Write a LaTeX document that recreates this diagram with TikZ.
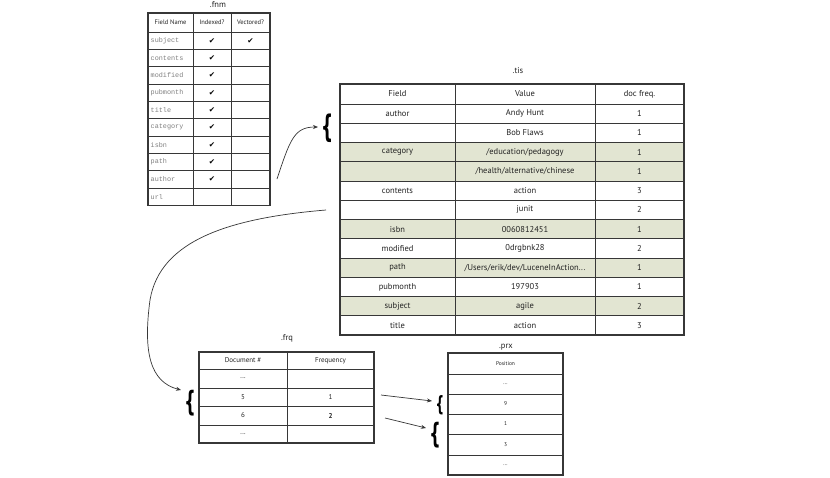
\documentclass[tikz,border=0pt]{standalone}
\usepackage{fontspec}
\setmainfont{PT Sans}
\setmonofont{Liberation Mono}
\newfontfamily\checkfont{DejaVu Sans}
\newfontfamily\bracefont{DejaVu Sans}
\usetikzlibrary{arrows.meta}
\definecolor{rowshade}{RGB}{226,229,210}
\definecolor{gridc}{RGB}{55,55,55}
\definecolor{txtc}{RGB}{35,35,35}
\newcommand\tisrow[4]{%
  \pgfmathsetmacro\ry{94.375+#1*19.25}
  \node[tistxt] (tf#1) at (397.5,\ry) {#2};
  \node[tistxt] (tv#1) at (525,\ry) {#3};
  \node[tistxt] (td#1) at (639.5,\ry) {#4};
}
\newcommand\mybrace{{\bracefont\bfseries\fontsize{10}{10}\selectfont\{}}
\begin{document}
\begin{tikzpicture}[x=1pt,y=-1pt,
  gridline/.style={draw=gridc,line width=0.8pt},
  outer/.style={draw=gridc,line width=1.1pt},
  tistxt/.style={font=\fontsize{8.5}{9}\selectfont,text=txtc,inner sep=0pt},
  fnmhead/.style={font=\fontsize{6.5}{7}\selectfont,text=txtc,inner sep=0pt},
  fnmname/.style={font=\ttfamily\fontsize{6.8}{7}\selectfont,text=gray,inner sep=0pt,anchor=west},
  chk/.style={font=\checkfont\fontsize{7.5}{8}\selectfont,text=black,inner sep=0pt},
  smalltxt/.style={font=\fontsize{7}{8}\selectfont,text=txtc,inner sep=0pt},
  tinytxt/.style={font=\fontsize{5.5}{6}\selectfont,text=txtc,inner sep=0pt},
  lbl/.style={font=\fontsize{8.5}{9}\selectfont,text=txtc,inner sep=0pt},
  bracenode/.style={inner sep=0pt,text=black},
  conn/.style={draw=gridc,line width=0.7pt,-{Stealth[length=5pt,width=4pt]}}]
\useasboundingbox (0,0) rectangle (830,477);
\fill[white] (0,0) rectangle (830,477);

% ---------------- .fnm ----------------
\node[lbl] (fnmlbl) at (218,5) {.fnm};
\foreach \y in {32,49.34,66.68,84.02,101.36,118.7,136.04,153.38,170.72,188.06}
  \draw[gridline] (148,\y) -- (270,\y);
\draw[gridline] (193,13) -- (193,205.4);
\draw[gridline] (231,13) -- (231,205.4);
\draw[outer] (148,13) rectangle (270,205.4);
\node[fnmhead] (fh1) at (170.5,22.5) {Field Name};
\node[fnmhead] (fh2) at (212,22.5) {Indexed?};
\node[fnmhead] (fh3) at (250.5,22.5) {Vectored?};
\foreach \i/\nm/\ix/\vc in {1/subject/1/1,2/contents/1/0,3/modified/1/0,4/pubmonth/1/0,5/title/1/0,6/category/1/0,7/isbn/1/0,8/path/1/0,9/author/1/0,10/url/0/0}{
  \pgfmathsetmacro\ry{32+(\i-0.5)*17.34}
  \node[fnmname] (fn\i) at (150.5,\ry) {\nm};
  \ifnum\ix=1 \node[chk] (fi\i) at (212,\ry) {✔}; \fi
  \ifnum\vc=1 \node[chk] (fv\i) at (250.5,\ry) {✔}; \fi
}

% ---------------- .tis ----------------
\node[lbl] (tislbl) at (518,71) {.tis};
\foreach \r in {3,4,7,9,11}
  \fill[rowshade] (340,{104+(\r-1)*19.25}) rectangle (684,{104+\r*19.25});
\foreach \r in {0,...,11}
  \draw[gridline] (340,{104+\r*19.25}) -- (684,{104+\r*19.25});
\draw[gridline] (455,84) -- (455,335);
\draw[gridline] (595,84) -- (595,335);
\draw[outer] (340,84) rectangle (684,335);
\node[tistxt] (th1) at (397.5,94) {Field};
\node[tistxt] (th2) at (525,94) {Value};
\node[tistxt] (th3) at (639.5,94) {doc freq.};
\tisrow{1}{author}{Andy Hunt}{1}
\tisrow{2}{}{Bob Flaws}{1}
\tisrow{3}{category}{/education/pedagogy}{1}
\tisrow{4}{}{/health/alternative/chinese}{1}
\tisrow{5}{contents}{action}{3}
\tisrow{6}{}{junit}{2}
\tisrow{7}{isbn}{0060812451}{1}
\tisrow{8}{modified}{0drgbnk28}{2}
\tisrow{9}{path}{/Users/erik/dev/LuceneInAction...}{1}
\tisrow{10}{pubmonth}{197903}{1}
\tisrow{11}{subject}{agile}{2}
\tisrow{12}{title}{action}{3}

% ---------------- .frq ----------------
\node[lbl] (frqlbl) at (287,338) {.frq};
\foreach \y in {369,388,406,425}
  \draw[gridline] (199,\y) -- (374,\y);
\draw[gridline] (287,352) -- (287,443);
\draw[outer] (199,352) rectangle (374,443);
\node[smalltxt] (fq1) at (243,360.5) {Document \#};
\node[smalltxt] (fq2) at (330.5,360.5) {Frequency};
\node[smalltxt] (fq3) at (243,378.5) {...};
\node[smalltxt] (fq4) at (243,397) {5};
\node[smalltxt] (fq5) at (330.5,397) {1};
\node[smalltxt] (fq6) at (243,415.5) {6};
\node[smalltxt] (fq7) at (330.5,415.5) {\bfseries 2};
\node[smalltxt] (fq8) at (243,434) {...};

% ---------------- .prx ----------------
\node[lbl] (prxlbl) at (506,347) {.prx};
\foreach \y in {374,394,414,434,455}
  \draw[gridline] (448,\y) -- (563,\y);
\draw[outer] (448,353) rectangle (563,475);
\node[tinytxt] (px1) at (505.5,364) {Position};
\node[tinytxt] (px2) at (505.5,384) {...};
\node[tinytxt] (px3) at (505.5,404) {9};
\node[tinytxt] (px4) at (505.5,424) {1};
\node[tinytxt] (px5) at (505.5,444.5) {3};
\node[tinytxt] (px6) at (505.5,465) {...};

% ---------------- braces ----------------
\node[bracenode,xscale=1.7,yscale=3.1] (btis) at (328,128) {\mybrace};
\node[bracenode,xscale=1.6,yscale=2.8] (bfrq) at (190,403.5) {\mybrace};
\node[bracenode,xscale=1.2,yscale=2.1] (bprx1) at (440,405) {\mybrace};
\node[bracenode,xscale=1.6,yscale=2.8] (bprx2) at (435,435.5) {\mybrace};

% ---------------- connectors ----------------
\coordinate (c1s) at (277,179);
\coordinate (c1e) at (318,127);
\coordinate (c2s) at (326,210);
\coordinate (c2e) at (181,390);
\coordinate (c3s) at (381,395);
\coordinate (c3e) at (432,401);
\coordinate (c4s) at (385,418);
\coordinate (c4e) at (426,428);
\draw[conn] (c1s) .. controls (290,140) and (294,127) .. (c1e);
\draw[conn] (c2s) .. controls (230,218) and (160,240) .. (150,300) .. controls (143,352) and (150,382) .. (c2e);
\draw[conn] (c3s) -- (c3e);
\draw[conn] (c4s) -- (c4e);
\end{tikzpicture}
\end{document}
